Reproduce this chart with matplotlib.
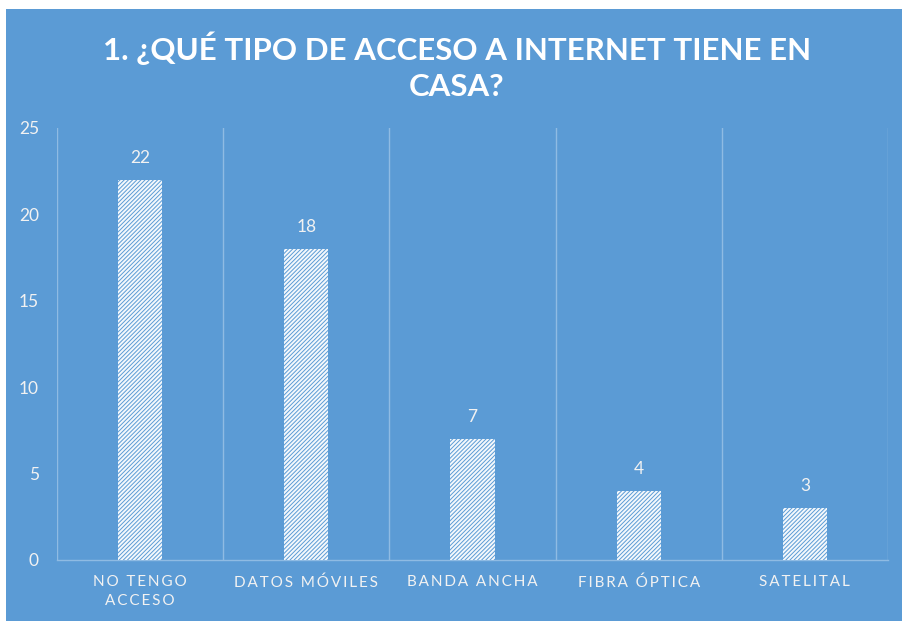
import matplotlib
matplotlib.use("Agg")
from matplotlib import pyplot as plt
from matplotlib.patches import Rectangle

categories = ["NO TENGO\nACCESO", "DATOS MÓVILES", "BANDA ANCHA", "FIBRA ÓPTICA", "SATELITAL"]
counts = [22, 18, 7, 4, 3]
y_ticks = [0, 5, 10, 15, 20, 25]
title = "1. ¿QUÉ TIPO DE ACCESO A INTERNET TIENE EN\nCASA?"

BLUE = "#5b9bd5"
LIGHT = "#f2f2f2"
GRID = "#8fbbe3"

plt.rcParams["font.family"] = ["Lato", "DejaVu Sans"]
plt.rcParams["hatch.linewidth"] = 0.7


def spaced(text: str) -> str:
    # fake the letter spacing of the original axis labels
    return "\n".join("\u2009".join(line) for line in text.split("\n"))


fig = plt.figure(figsize=(9.02, 6.21), dpi=100, facecolor="white")
fig.patches.append(
    Rectangle((6 / 902, 0), 1, 1 - 9 / 621, transform=fig.transFigure,
              facecolor=BLUE, edgecolor="none", zorder=-10)
)

ax = fig.add_axes([57 / 902, 1 - 560 / 621, (888 - 57) / 902, (560 - 128) / 621])
ax.set_facecolor("none")
ax.set_zorder(1)

x = list(range(len(categories)))
bars = ax.bar(x, counts, width=0.265, facecolor="#f4f8fc", edgecolor=BLUE,
              linewidth=0, hatch="////////", zorder=3)

for xi, val in zip(x, counts):
    ax.annotate(str(val), (xi, val), xytext=(0, 10), textcoords="offset points",
                ha="center", va="bottom", color=LIGHT, fontsize=12.5)

ax.set_xlim(-0.5, len(categories) - 0.5)
ax.set_ylim(0, 25)
ax.set_yticks(y_ticks)
ax.set_xticks(x)
ax.set_xticklabels([spaced(c) for c in categories], color=LIGHT, fontsize=11,
                   linespacing=1.45)
ax.tick_params(axis="x", length=0, pad=11)
ax.tick_params(axis="y", length=0, pad=13, labelcolor=LIGHT, labelsize=12.5)

for b in [i - 0.5 for i in range(len(categories) + 1)]:
    ax.axvline(b, color=GRID, linewidth=1.0, zorder=1)

for side in ["top", "right", "left"]:
    ax.spines[side].set_visible(False)
ax.spines["bottom"].set_color(GRID)
ax.spines["bottom"].set_linewidth(1.0)

fig.text(457 / 902, 1 - 66 / 621, title, ha="center", va="center", color="white",
         fontsize=22.5, fontweight="bold", linespacing=1.35)

fig.savefig("out.png", dpi=100, facecolor=fig.get_facecolor())
